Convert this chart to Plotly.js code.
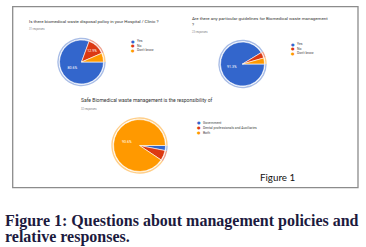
<!DOCTYPE html>
<html>
<head>
<meta charset="utf-8">
<script src="https://cdn.plot.ly/plotly-3.0.1.min.js"></script>
<style>
html,body{margin:0;padding:0;background:#fff;}
#chart{width:366px;height:247px;}
</style>
</head>
<body>
<div id="chart"></div>
<script>
// ---- data ----
var q1Title = "Is there biomedical waste disposal policy in your Hospital / Clinic ?";
var q1Responses = "31 responses";
var q1Labels = ["Yes", "No", "Don't know"];
var q1Values = [80.6, 12.9, 6.5];

var q2Title = "Are there any particular guidelines for Biomedical waste management<br>?";
var q2Responses = "23 responses";
var q2Labels = ["Yes", "No", "Don't know"];
var q2Values = [91.3, 4.3, 4.4];

var q3Title = "Safe Biomedical waste management is the responsibility of";
var q3Responses = "32 responses";
var q3Labels = ["Government", "Dental professionals and Auxiliaries", "Both"];
var q3Values = [3.1, 6.3, 90.6];

var sliceColors = ["#3366cc", "#dc3912", "#ff9900"];
var ringColors = ["#a9bde6", "#eea08c", "#ffcf8a"];

var figLabel = "Figure 1";
var caption1 = "Figure 1: Questions about management policies and";
var caption2 = "relative responses.";

// ---- layout helpers ----
var W = 366, H = 247;
function dom(cx, cy, r) {
  return {x: [(cx - r) / W, (cx + r) / W], y: [1 - (cy + r) / H, 1 - (cy - r) / H]};
}
function labelsFor(vals) {
  var s = 0; vals.forEach(function (v) { s += v; });
  return vals.map(function (v) { var p = v / s * 100; return p >= 10 ? p.toFixed(1) + "%" : ""; });
}

var pies = [
  {vals: q1Values, labs: q1Labels, cx: 81.5, cy: 62, r: 22},
  {vals: q2Values, labs: q2Labels, cx: 242.5, cy: 64, r: 22},
  {vals: q3Values, labs: q3Labels, cx: 139.5, cy: 145.5, r: 26}
];

var data = [];
pies.forEach(function (p) {
  // pale outer ring
  data.push({
    type: "pie", values: p.vals, labels: p.labs, sort: false, direction: "clockwise", rotation: 90,
    hole: (p.r + 0.8) / (p.r + 2.2), domain: dom(p.cx, p.cy, p.r + 2.2),
    marker: {colors: ringColors, line: {width: 0}}, textinfo: "none", showlegend: false, hoverinfo: "skip"
  });
  data.push({
    type: "pie", values: p.vals, labels: p.labs, sort: false, direction: "clockwise", rotation: 90,
    domain: dom(p.cx, p.cy, p.r),
    marker: {colors: sliceColors, line: {color: "#ffffff", width: 0.6}},
    text: labelsFor(p.vals), textinfo: "text", textposition: "inside", insidetextorientation: "horizontal",
    textfont: {family: "Roboto", size: 3.6, color: "#ffffff"}, showlegend: false
  });
});

var ann = [];
function addText(x, y, t, size, color, fam, weight, anchor) {
  ann.push({xref: "paper", yref: "paper", x: x / W, y: 1 - y / H, text: t, showarrow: false,
    xanchor: anchor || "left", yanchor: "middle", align: "left",
    font: {family: fam || "Roboto", size: size, color: color, weight: weight || 400}});
}
addText(26.5, 21, q1Title, 4.4, "#333333");
addText(26.5, 28.5, q1Responses, 2.6, "#888888");
addText(189.5, 21.5, q2Title, 4.4, "#333333");
addText(189.5, 32, q2Responses, 2.6, "#888888");
addText(78.5, 100, q3Title, 5, "#333333");
addText(78.5, 108.5, q3Responses, 2.6, "#888888");

var legends = [
  {labs: q1Labels, x: 132.5, y: 41, dy: 4.5},
  {labs: q2Labels, x: 293, y: 44, dy: 4.5},
  {labs: q3Labels, x: 198.5, y: 122.7, dy: 5}
];
legends.forEach(function (lg) {
  lg.labs.forEach(function (lab, i) {
    ann.push({xref: "paper", yref: "paper", x: lg.x / W, y: 1 - (lg.y + i * lg.dy) / H, text: "●",
      showarrow: false, xanchor: "center", yanchor: "middle",
      font: {family: "DejaVu Sans", size: 4, color: sliceColors[i]}});
    addText(lg.x + 2.2, lg.y + i * lg.dy, lab, 3.4, "#444444");
  });
});

addText(277.5, 176.5, figLabel, 9.8, "#111111", "Lato", 400, "center");
addText(3, 221, caption1, 16, "#1c1a3e", "Liberation Serif", 700);
addText(3, 237, caption2, 16, "#1c1a3e", "Liberation Serif", 700);

var layout = {
  width: W, height: H,
  margin: {l: 0, r: 0, t: 0, b: 0},
  paper_bgcolor: "#ffffff", plot_bgcolor: "#ffffff",
  showlegend: false,
  annotations: ann,
  shapes: [{type: "rect", xref: "paper", yref: "paper",
    x0: 12.7 / W, x1: 358 / W, y0: 1 - 187.7 / H, y1: 1 - 6.7 / H,
    line: {color: "#8c8c8c", width: 1.3}, fillcolor: "rgba(0,0,0,0)"}]
};

Plotly.newPlot("chart", data, layout, {staticPlot: true, displayModeBar: false});
</script>
</body>
</html>
